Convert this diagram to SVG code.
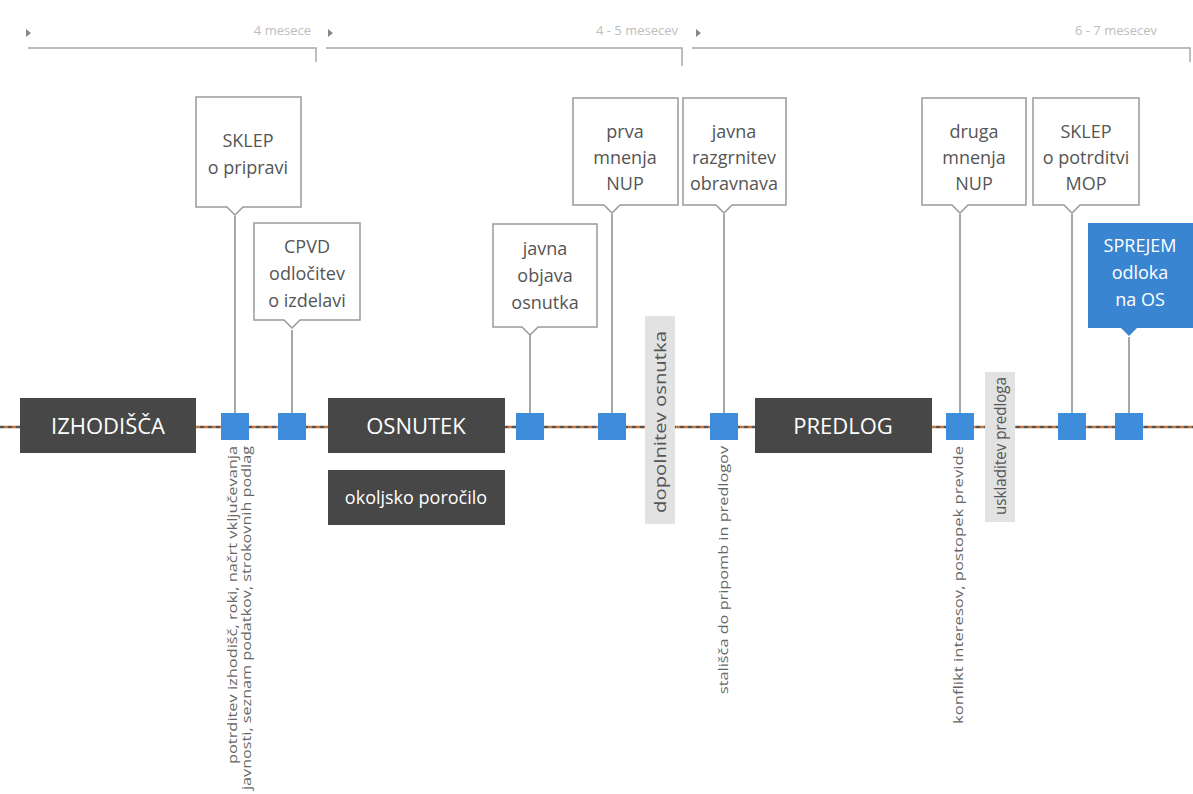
<svg xmlns="http://www.w3.org/2000/svg" width="1193" height="794" viewBox="0 0 1193 794">
<style>
.top{fill:none;stroke:#a8a8a8;stroke-width:1.5}
.toptxt{font-family:"Open Sans",sans-serif;font-size:13px;fill:#bdbdbd}
.call{fill:#fff;stroke:#9a9a9a;stroke-width:1.5}
.ctxt{font-family:"Open Sans",sans-serif;font-size:18px;fill:#555;text-anchor:middle}
.wtxt{font-family:"Open Sans",sans-serif;font-size:18px;fill:#fff;text-anchor:middle}
.dark{fill:#474747}
.btxt{font-family:"Open Sans",sans-serif;font-size:22px;fill:#fff;text-anchor:middle}
.sq{fill:#3d8ddb}
.vl{stroke:#8a8a8a;stroke-width:1.5;fill:none}
.bar{fill:#e2e2e2}
.bartxt{font-family:"Open Sans",sans-serif;font-size:17px;fill:#555;text-anchor:middle}
.small{font-family:"Open Sans",sans-serif;font-size:13.5px;fill:#666;text-anchor:end}
</style>
<g id="timescale">
<polyline class="top" points="28,48 316,48 316,62"/>
<polyline class="top" points="326,48 682,48 682,66"/>
<polyline class="top" points="692,48 1190,48 1190,62"/>
<polygon points="26,29 31,33 26,37" fill="#888"/>
<polygon points="328,29 333,33 328,37" fill="#888"/>
<polygon points="696,29 701,33 696,37" fill="#888"/>
<text class="toptxt" x="311" y="35" text-anchor="end">4 mesece</text>
<text class="toptxt" x="678" y="35" text-anchor="end">4 - 5 mesecev</text>
<text class="toptxt" x="1075" y="35">6 - 7 mesecev</text>
</g>
<g id="connectors">
<line x1="0" y1="427" x2="1193" y2="427" stroke="#c8703e" stroke-width="2.5" stroke-dasharray="4 4" stroke-dashoffset="4"/>
<line x1="0" y1="427" x2="1193" y2="427" stroke="#555" stroke-width="2.5" stroke-dasharray="4 4"/>
<line class="vl" x1="235" y1="216" x2="235" y2="414"/>
<line class="vl" x1="292" y1="330" x2="292" y2="414"/>
<line class="vl" x1="530" y1="335" x2="530" y2="414"/>
<line class="vl" x1="612" y1="214" x2="612" y2="414"/>
<line class="vl" x1="724" y1="214" x2="724" y2="414"/>
<line class="vl" x1="960" y1="214" x2="960" y2="414"/>
<line class="vl" x1="1072" y1="214" x2="1072" y2="414"/>
<line class="vl" x1="1129" y1="337" x2="1129" y2="414"/>
</g>
<g id="izhodisca"><rect class="dark" x="20" y="398" width="176" height="55"/><text class="btxt" x="108" y="434">IZHODIŠČA</text></g>
<g id="osnutek"><rect class="dark" x="328" y="398" width="177" height="55"/><text class="btxt" x="416" y="434">OSNUTEK</text></g>
<g id="okoljsko"><rect class="dark" x="328" y="470" width="177" height="55"/><text class="wtxt" x="416" y="504">okoljsko poročilo</text></g>
<g id="predlog"><rect class="dark" x="755" y="398" width="177" height="55"/><text class="btxt" x="843" y="434">PREDLOG</text></g>
<g id="squares">
<rect class="sq" x="221" y="413" width="28" height="27"/>
<rect class="sq" x="278" y="413" width="28" height="27"/>
<rect class="sq" x="516" y="413" width="28" height="27"/>
<rect class="sq" x="598" y="413" width="28" height="27"/>
<rect class="sq" x="710" y="413" width="28" height="27"/>
<rect class="sq" x="946" y="413" width="28" height="27"/>
<rect class="sq" x="1058" y="413" width="28" height="27"/>
<rect class="sq" x="1115" y="413" width="28" height="27"/>
</g>
<g id="sklep-priprava"><path class="call" d="M196,97 H301 V207 H243 L235,215 L227,207 H196 Z"/><text class="ctxt" x="248" y="147">SKLEP</text><text class="ctxt" x="248" y="174">o pripravi</text></g>
<g id="cpvd"><path class="call" d="M254,223 H360 V320 H300 L292,328 L284,320 H254 Z"/><text class="ctxt" x="307" y="253">CPVD</text><text class="ctxt" x="307" y="280">odločitev</text><text class="ctxt" x="307" y="307">o izdelavi</text></g>
<g id="javna-objava"><path class="call" d="M493,224 H597 V327 H538 L530,335 L522,327 H493 Z"/><text class="ctxt" x="545" y="255">javna</text><text class="ctxt" x="545" y="282">objava</text><text class="ctxt" x="545" y="309">osnutka</text></g>
<g id="prva-mnenja"><path class="call" d="M573,98 H678 V205 H620 L612,213 L604,205 H573 Z"/><text class="ctxt" x="625" y="138">prva</text><text class="ctxt" x="625" y="164">mnenja</text><text class="ctxt" x="625" y="190">NUP</text></g>
<g id="javna-razgrnitev"><path class="call" d="M683,98 H786 V205 H732 L724,213 L716,205 H683 Z"/><text class="ctxt" x="734" y="138">javna</text><text class="ctxt" x="734" y="164">razgrnitev</text><text class="ctxt" x="734" y="190">obravnava</text></g>
<g id="druga-mnenja"><path class="call" d="M922,98 H1026 V205 H968 L960,213 L952,205 H922 Z"/><text class="ctxt" x="974" y="138">druga</text><text class="ctxt" x="974" y="164">mnenja</text><text class="ctxt" x="974" y="190">NUP</text></g>
<g id="sklep-potrditev"><path class="call" d="M1033,98 H1139 V205 H1080 L1072,213 L1064,205 H1033 Z"/><text class="ctxt" x="1086" y="138">SKLEP</text><text class="ctxt" x="1086" y="164">o potrditvi</text><text class="ctxt" x="1086" y="190">MOP</text></g>
<g id="sprejem"><path d="M1088,223 H1193 V328 H1137 L1129,336 L1121,328 H1088 Z" fill="#3a85d2"/><text class="wtxt" x="1140" y="252">SPREJEM</text><text class="wtxt" x="1140" y="279">odloka</text><text class="wtxt" x="1140" y="306">na OS</text></g>
<g id="dopolnitev"><rect class="bar" x="645" y="316" width="30" height="208"/><text class="bartxt" transform="translate(666,422) rotate(-90)" textLength="182" lengthAdjust="spacingAndGlyphs">dopolnitev osnutka</text></g>
<g id="uskladitev"><rect class="bar" x="985" y="372" width="30" height="150"/><text class="bartxt" transform="translate(1006,446) rotate(-90)" textLength="138" lengthAdjust="spacingAndGlyphs">uskladitev predloga</text></g>
<g id="notes">
<text class="small" transform="translate(237,446) rotate(-90)" textLength="318" lengthAdjust="spacingAndGlyphs">potrditev izhodišč, roki, načrt vključevanja</text>
<text class="small" transform="translate(251,446) rotate(-90)" textLength="344" lengthAdjust="spacingAndGlyphs">javnosti, seznam podatkov, strokovnih podlag</text>
<text class="small" transform="translate(728,446) rotate(-90)" textLength="248" lengthAdjust="spacingAndGlyphs">stališča do pripomb in predlogov</text>
<text class="small" transform="translate(963,446) rotate(-90)" textLength="278" lengthAdjust="spacingAndGlyphs">konflikt interesov, postopek previde</text>
</g>
</svg>
